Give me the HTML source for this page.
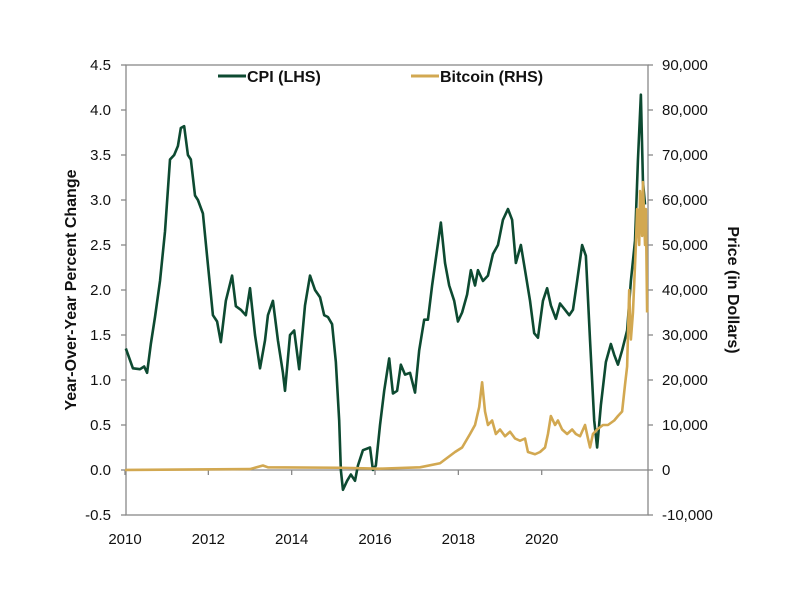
<!DOCTYPE html>
<html><head><meta charset="utf-8"><style>
body{margin:0;background:#fff;}
svg text{font-family:"Liberation Sans",Arial,sans-serif;}
</style></head><body>
<svg id="chart" width="800" height="600" xmlns="http://www.w3.org/2000/svg">
<rect width="800" height="600" fill="#fff"/>
<g id="axes"></g>
<g id="series"></g>
<g>
<g><line x1="218" y1="76" x2="246" y2="76" stroke="#0d4a31" stroke-width="3"/><text x="247" y="82" font-size="16" font-weight="bold" fill="#111">CPI (LHS)</text></g>
<g><line x1="411" y1="76" x2="439" y2="76" stroke="#d2a851" stroke-width="3"/><text x="440" y="82" font-size="16" font-weight="bold" fill="#111">Bitcoin (RHS)</text></g>
</g>
<text transform="translate(76,290) rotate(-90)" text-anchor="middle" font-size="16" font-weight="bold" fill="#111">Year-Over-Year Percent Change</text>
<text transform="translate(728,290) rotate(90)" text-anchor="middle" font-size="16" font-weight="bold" fill="#111">Price (in Dollars)</text>
</svg>
<script>
const xTicks=[2010,2012,2014,2016,2018,2020];
const leftTicks=[-0.5,0,0.5,1,1.5,2,2.5,3,3.5,4,4.5];
const rightTicks=[-10000,0,10000,20000,30000,40000,50000,60000,70000,80000,90000];
const cpiOffsets=[0.02,0.19,0.36,0.46,0.53,0.62,0.72,0.84,0.96,1.08,1.18,1.27,1.34,1.42,1.51,1.58,1.68,1.75,1.87,1.99,2.11,2.21,2.30,2.42,2.57,2.66,2.78,2.90,3.00,3.12,3.24,3.36,3.43,3.55,3.67,3.79,3.84,3.96,4.06,4.18,4.32,4.44,4.56,4.68,4.78,4.87,4.97,5.06,5.14,5.18,5.23,5.33,5.42,5.52,5.59,5.71,5.88,5.95,6.02,6.12,6.22,6.34,6.43,6.53,6.62,6.72,6.84,6.96,7.06,7.18,7.27,7.37,7.49,7.58,7.68,7.78,7.90,7.99,8.09,8.21,8.30,8.40,8.47,8.59,8.71,8.83,8.95,9.07,9.19,9.29,9.38,9.50,9.60,9.72,9.82,9.91,10.03,10.13,10.22,10.34,10.44,10.56,10.66,10.75,10.85,10.97,11.06,11.16,11.26,11.33,11.42,11.54,11.66,11.74,11.83,11.93,12.05,12.14,12.24,12.31,12.38,12.43,12.48];
const cpiValues=[1.35,1.13,1.12,1.15,1.08,1.4,1.7,2.1,2.65,3.45,3.5,3.6,3.8,3.82,3.5,3.45,3.05,3.0,2.85,2.28,1.72,1.65,1.42,1.88,2.16,1.82,1.78,1.72,2.02,1.5,1.13,1.44,1.72,1.88,1.44,1.08,0.88,1.5,1.55,1.12,1.83,2.16,2.0,1.92,1.72,1.7,1.62,1.2,0.55,0,-0.22,-0.12,-0.05,-0.12,0.05,0.22,0.25,0,0.05,0.5,0.88,1.24,0.85,0.88,1.17,1.06,1.08,0.86,1.33,1.67,1.67,2.05,2.45,2.75,2.3,2.05,1.88,1.65,1.75,1.95,2.22,2.05,2.22,2.1,2.16,2.4,2.5,2.78,2.9,2.78,2.3,2.5,2.22,1.88,1.52,1.47,1.88,2.02,1.83,1.68,1.85,1.78,1.72,1.78,2.1,2.5,2.38,1.44,0.55,0.25,0.72,1.2,1.4,1.28,1.17,1.33,1.55,2.1,2.55,3.45,4.17,3.2,2.95];
const btcOffsets=[0.0,3.0,3.31,3.43,5.16,6.12,7.08,7.56,7.92,8.09,8.28,8.40,8.50,8.57,8.64,8.71,8.81,8.90,9.0,9.12,9.24,9.36,9.48,9.60,9.67,9.84,9.96,10.08,10.15,10.22,10.32,10.39,10.49,10.61,10.73,10.82,10.92,11.04,11.11,11.16,11.23,11.33,11.47,11.59,11.74,11.83,11.93,12.0,12.05,12.10,12.14,12.19,12.26,12.29,12.34,12.36,12.41,12.43,12.48,12.50,12.53];
const btcValues=[0,200,1000,600,500,300,600,1500,4000,5000,8000,10000,14000,19500,13000,10000,11000,8000,9000,7500,8500,7000,6500,7000,4000,3500,4000,5000,8000,12000,10000,11000,9000,8000,9000,8000,7500,10000,7000,5000,8000,9000,10000,10000,11000,12000,13000,19000,23000,40000,29000,35000,50000,58000,50000,62000,52000,64000,50000,58000,35000];
const X0=125,PXY=41.67,Y0=470;
function xs(off){return X0+off*PXY;}
function yl(v){return Y0-v*90;}
function yr(v){return Y0-v*0.0045;}
const NS="http://www.w3.org/2000/svg";
function mk(t,a,p){const e=document.createElementNS(NS,t);for(const k in a)e.setAttribute(k,a[k]);p.appendChild(e);return e;}
const axes=document.getElementById('axes'),ser=document.getElementById('series');
const L=126,R=648,T=65,B=515;
const frame=mk('rect',{x:L,y:T,width:R-L,height:B-T,fill:'none',stroke:'#888','stroke-width':1.3},axes);


const zl=mk('line',{x1:L,x2:R,y1:yl(0),y2:yl(0),stroke:'#888','stroke-width':1.3},axes);


xTicks.forEach(t=>{
 const x=xs(t-2010);
 const tk=mk('line',{x1:x,x2:x,y1:yl(0),y2:yl(0)+5,stroke:'#888','stroke-width':1.3},axes);
 
 
 const tx=mk('text',{x:x,y:544,'text-anchor':'middle','font-size':15,fill:'#111'},axes);tx.textContent=t;
 
 
});
leftTicks.forEach(t=>{
 const y=yl(t);
 mk('line',{x1:L-5,x2:L,y1:y,y2:y,stroke:'#888','stroke-width':1.3},axes);
 const tx=mk('text',{x:111,y:y+5,'text-anchor':'end','font-size':15,fill:'#111'},axes);tx.textContent=t.toFixed(1);
 
 
});
rightTicks.forEach(t=>{
 const y=yr(t);
 mk('line',{x1:R,x2:R+5,y1:y,y2:y,stroke:'#888','stroke-width':1.3},axes);
 const tx=mk('text',{x:662,y:y+5,'text-anchor':'start','font-size':15,fill:'#111'},axes);tx.textContent=t.toLocaleString('en-US');
 
 
});
const cp=mk('polyline',{points:cpiOffsets.map((o,i)=>xs(o)+','+yl(cpiValues[i])).join(' '),fill:'none',stroke:'#0d4a31','stroke-width':2.6,'stroke-linejoin':'round'},ser);


const bp=mk('polyline',{points:btcOffsets.map((o,i)=>xs(o)+','+yr(btcValues[i])).join(' '),fill:'none',stroke:'#d2a851','stroke-width':2.6,'stroke-linejoin':'round'},ser);


</script>
</body></html>
